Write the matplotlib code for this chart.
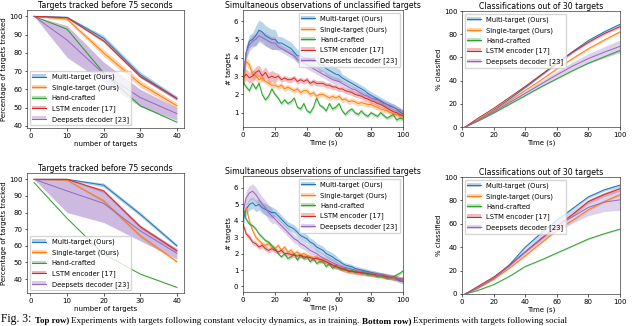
import matplotlib.pyplot as plt
import numpy as np
from matplotlib.lines import Line2D
from matplotlib.patches import Patch

LABELS = ["Multi-target (Ours)", "Single-target (Ours)", "Hand-crafted",
          "LSTM encoder [17]", "Deepsets decoder [23]"]
COLORS = ["tab:blue", "tab:orange", "tab:green", "tab:red", "tab:purple"]

# ---- left column: % of targets tracked vs number of targets
N_TARGETS = [1, 10, 20, 30, 40]

TRACKED_TOP_MEAN = [
    [100, 99.5, 88, 68, 55],
    [100, 98.5, 80, 63, 51],
    [100, 93, 69, 51, 42],
    [100, 99.3, 86.5, 67, 55],
    [100, 87, 68.5, 55.5, 46.7],
]
TRACKED_TOP_LOW = [
    [99.8, 99, 86.5, 66.5, 53.7],
    [99.8, 97.7, 78.2, 61.2, 49.5],
    [100, 92.7, 68.6, 50.6, 41.7],
    [99.8, 98.9, 85.7, 66.2, 54.3],
    [100, 77.5, 64, 50.5, 43],
]
TRACKED_TOP_HIGH = [
    [100.2, 100, 89.5, 69.5, 56.3],
    [100.2, 99.3, 81.8, 64.8, 52.5],
    [100, 93.3, 69.4, 51.4, 42.3],
    [100.2, 99.7, 87.3, 67.8, 55.7],
    [100, 95, 75, 60, 50],
]

TRACKED_BOT_MEAN = [
    [100, 100, 96.5, 79, 60],
    [100, 99.5, 87, 66, 50.5],
    [98, 76.5, 55, 43, 35],
    [100, 100, 93, 71.5, 57],
    [100, 93, 85.5, 69, 55.5],
]
TRACKED_BOT_LOW = [
    [99.8, 99.7, 95.3, 77.8, 59],
    [99.8, 99.1, 86, 65, 49.7],
    [97.8, 76.3, 54.8, 42.8, 34.8],
    [99.8, 99.7, 92, 70.5, 56.2],
    [100, 80, 74, 63, 52],
]
TRACKED_BOT_HIGH = [
    [100.2, 100.3, 97.7, 80.2, 61],
    [100.2, 99.9, 88, 67, 51.3],
    [98.2, 76.7, 55.2, 43.2, 35.2],
    [100.2, 100.3, 94, 72.5, 57.8],
    [100, 100, 93, 72, 58.5],
]

# ---- middle column: unclassified targets observed vs time (every 2 s)
TIME_OBS = list(range(0, 101, 2))

OBS_TOP = [
    [2.5, 4.3, 4.9, 5.0, 5.2, 5.5, 5.4, 5.2, 5.1, 5.0, 5.0, 4.8, 4.8, 4.7, 4.6, 4.5, 4.3,
     4.1, 4.1, 4.0, 4.0, 3.9, 3.8, 3.8, 3.6, 3.6, 3.4, 3.3, 3.2, 3.1, 3.05, 2.9, 2.8,
     2.7, 2.6, 2.5, 2.4, 2.3, 2.2, 2.05, 1.95, 1.85, 1.75, 1.65, 1.55, 1.45, 1.35, 1.3,
     1.2, 1.05, 0.95],
    [2.4, 3.8, 3.6, 3.1, 3.0, 2.8, 2.9, 2.7, 2.6, 2.5, 2.5, 2.4, 2.5, 2.3, 2.4, 2.3, 2.2,
     2.3, 2.1, 2.2, 2.2, 2.0, 2.1, 1.9, 2.0, 2.0, 1.9, 1.8, 1.9, 1.8, 1.9, 1.7, 1.75,
     1.6, 1.65, 1.6, 1.5, 1.55, 1.5, 1.45, 1.45, 1.35, 1.3, 1.2, 1.15, 1.1, 1.0, 0.95,
     0.9, 0.85, 0.8],
    [2.7, 2.4, 2.2, 2.6, 2.3, 2.6, 2.0, 1.7, 1.9, 2.3, 2.0, 1.8, 1.5, 1.7, 1.5, 1.6, 1.8,
     1.3, 1.2, 1.5, 1.1, 1.0, 1.3, 1.8, 1.4, 1.3, 1.1, 1.5, 1.2, 1.3, 1.5, 1.1, 0.9,
     1.1, 1.2, 1.0, 0.9, 1.1, 0.9, 0.8, 1.0, 0.9, 0.8, 1.0, 0.85, 0.7, 0.8, 0.9, 0.6,
     0.7, 0.65],
    [2.9, 3.1, 2.9, 3.0, 3.2, 3.3, 3.0, 3.2, 2.9, 3.0, 2.9, 3.0, 2.8, 2.9, 2.8, 2.8, 2.9,
     2.7, 2.8, 2.7, 2.8, 2.6, 2.7, 2.6, 2.6, 2.6, 2.5, 2.5, 2.4, 2.4, 2.3, 2.3, 2.2,
     2.15, 2.1, 2.0, 1.95, 1.9, 1.8, 1.75, 1.65, 1.6, 1.5, 1.45, 1.35, 1.25, 1.15, 1.05,
     1.0, 0.9, 0.85],
    [3.0, 4.3, 4.7, 4.9, 5.0, 5.2, 5.1, 5.0, 4.9, 4.8, 4.8, 4.6, 4.5, 4.4, 4.3, 4.2, 4.1,
     3.9, 3.8, 3.7, 3.6, 3.5, 3.4, 3.3, 3.2, 3.1, 3.0, 2.9, 2.8, 2.75, 2.7, 2.6, 2.5,
     2.4, 2.3, 2.25, 2.15, 2.05, 1.95, 1.9, 1.8, 1.75, 1.7, 1.6, 1.5, 1.45, 1.4, 1.3,
     1.2, 1.15, 1.05],
]
OBS_TOP_HALF = [
    [0.35] * 4 + [0.55] * 7 + [0.35] * 20 + [0.2] * 20,
    [0.25] * 6 + [0.15] * 45,
    [0.1] * 51,
    [0.3] * 11 + [0.15] * 40,
    [0.35] * 11 + [0.2] * 20 + [0.15] * 20,
]

OBS_BOT = [
    [4.0, 4.7, 5.0, 5.1, 4.9, 5.0, 4.8, 4.7, 4.6, 4.5, 4.5, 4.3, 4.1, 3.9, 3.7, 3.6, 3.5,
     3.3, 3.1, 3.0, 2.9, 2.7, 2.6, 2.4, 2.3, 2.2, 2.0, 1.9, 1.8, 1.65, 1.55, 1.4, 1.3,
     1.25, 1.2, 1.1, 1.05, 1.0, 0.95, 0.9, 0.85, 0.8, 0.75, 0.7, 0.65, 0.6, 0.55, 0.5,
     0.45, 0.35, 0.3],
    [4.3, 4.8, 4.0, 3.4, 3.0, 2.8, 2.6, 2.5, 2.6, 2.4, 2.3, 2.5, 2.2, 2.4, 2.1, 2.2, 2.0,
     2.1, 1.9, 2.0, 1.9, 1.8, 1.7, 1.8, 1.6, 1.6, 1.5, 1.4, 1.3, 1.2, 1.2, 1.1, 1.0,
     1.0, 0.95, 0.9, 0.85, 0.85, 0.8, 0.8, 0.75, 0.7, 0.7, 0.65, 0.6, 0.6, 0.55, 0.5,
     0.5, 0.45, 0.4],
    [4.8, 4.1, 3.8, 3.7, 3.5, 3.2, 3.0, 2.8, 2.7, 2.5, 2.3, 2.0, 1.8, 2.0, 1.7, 1.8, 2.0,
     1.6, 1.9, 1.7, 1.8, 1.5, 1.7, 1.4, 1.5, 1.5, 1.2, 1.4, 1.1, 1.3, 1.1, 1.0, 1.1,
     0.9, 1.0, 0.85, 0.9, 0.8, 0.85, 0.7, 0.75, 0.7, 0.6, 0.65, 0.6, 0.5, 0.55, 0.6,
     0.7, 0.8, 0.95],
    [3.8, 3.2, 3.0, 2.7, 2.6, 2.4, 2.5, 2.3, 2.2, 2.3, 2.2, 2.1, 2.2, 2.0, 2.0, 1.95, 1.9,
     1.85, 1.9, 1.8, 1.8, 1.75, 1.7, 1.7, 1.65, 1.6, 1.5, 1.4, 1.3, 1.2, 1.15, 1.1, 1.0,
     0.95, 0.9, 0.9, 0.85, 0.85, 0.8, 0.8, 0.75, 0.75, 0.7, 0.7, 0.65, 0.6, 0.6, 0.55,
     0.5, 0.45, 0.45],
    [4.5, 5.4, 5.7, 5.8, 5.6, 5.3, 5.0, 4.8, 4.5, 4.3, 4.1, 3.9, 3.7, 3.5, 3.3, 3.1, 2.9,
     2.8, 2.6, 2.5, 2.35, 2.2, 2.1, 2.0, 1.85, 1.75, 1.65, 1.55, 1.45, 1.35, 1.3, 1.2,
     1.15, 1.1, 1.05, 1.0, 0.95, 0.9, 0.9, 0.85, 0.8, 0.8, 0.75, 0.7, 0.7, 0.65, 0.6,
     0.55, 0.5, 0.45, 0.4],
]
OBS_BOT_HALF = [
    [0.35] * 10 + [0.25] * 20 + [0.15] * 21,
    [0.15] * 51,
    [0.1] * 51,
    [0.15] * 51,
    [0.45] * 10 + [0.25] * 20 + [0.15] * 21,
]

# ---- right column: % classified out of 30 targets vs time
TIME_CLS = [2, 10, 20, 30, 40, 50, 60, 70, 80, 90, 100]

CLS_TOP = [
    [0, 6, 14.5, 24, 34, 44.5, 55, 65, 74.5, 82, 88.5],
    [0, 6, 14, 22.5, 31.5, 40.5, 50, 59, 67.5, 75, 82],
    [0, 5, 12, 19.5, 27, 34.5, 41.5, 48.5, 55, 60.5, 66],
    [0, 7.5, 16, 25.5, 35, 45, 55, 64.5, 73, 80.5, 86.5],
    [0, 5.5, 13, 21, 29, 37, 45, 52.5, 59, 64.5, 69.5],
]
CLS_TOP_HALF = [
    [0, 0.3, 0.5, 0.6, 0.7, 0.8, 0.9, 1.0, 1.1, 1.2, 1.2],
    [0, 0.3, 0.4, 0.5, 0.6, 0.7, 0.8, 0.9, 1.0, 1.0, 1.0],
    [0, 0.2, 0.3, 0.3, 0.4, 0.4, 0.5, 0.5, 0.5, 0.6, 0.6],
    [0, 0.3, 0.4, 0.5, 0.6, 0.7, 0.8, 0.9, 1.0, 1.0, 1.0],
    [0, 0.5, 1.0, 1.5, 2.0, 2.5, 3.0, 3.5, 4.2, 4.8, 5.5],
]

CLS_BOT = [
    [0, 5, 13.5, 25, 40, 52, 63, 73, 83, 89, 93],
    [0, 5, 12.5, 22, 32.5, 43.5, 54.5, 63, 72, 79, 85],
    [0, 3, 8, 15, 23.5, 29, 35, 41, 47, 51.5, 55.5],
    [0, 6.5, 14.5, 24.5, 36, 47, 58, 68, 79, 85, 90],
    [0, 5.5, 13.5, 24, 36, 47.5, 58, 66, 74, 78.5, 80.5],
]
CLS_BOT_HALF = [
    [0, 0.4, 0.6, 0.8, 1.0, 1.1, 1.2, 1.2, 1.2, 1.2, 1.2],
    [0, 0.3, 0.5, 0.6, 0.7, 0.8, 0.9, 1.0, 1.0, 1.0, 1.0],
    [0, 0.2, 0.3, 0.3, 0.4, 0.4, 0.5, 0.5, 0.5, 0.5, 0.5],
    [0, 0.3, 0.5, 0.6, 0.8, 1.0, 1.2, 1.4, 1.6, 1.8, 2.0],
    [0, 0.5, 1.0, 1.5, 2.5, 3.5, 4.5, 5.5, 7.0, 8.0, 9.0],
]

CAPTION = [
    ("Fig. 3: ", "normal", 8.4),
    ("Top row) ", "bold", 6.4),
    ("Experiments with targets following constant velocity dynamics, as in training. ", "normal", 6.6),
    ("Bottom row) ", "bold", 6.6),
    ("Experiments with targets following social", "normal", 6.6),
]

FS = 5.0
plt.rcParams.update({
    "font.family": "DejaVu Sans",
    "font.size": FS,
    "axes.linewidth": 0.45,
    "axes.edgecolor": "0.15",
    "xtick.major.size": 1.8,
    "ytick.major.size": 1.8,
    "xtick.major.width": 0.45,
    "ytick.major.width": 0.45,
    "xtick.major.pad": 1.5,
    "ytick.major.pad": 1.5,
    "axes.titlepad": 1.5,
    "axes.labelpad": 1.5,
})

W, H = 640, 326


def rect(left, top, right, bottom):
    return [left / W, 1 - bottom / H, (right - left) / W, (bottom - top) / H]


def legend(ax, loc, band_alpha):
    handles = [(Patch(facecolor=c, alpha=band_alpha, linewidth=0), Line2D([], [], color=c, lw=0.8))
               for c in COLORS]
    ax.legend(handles, LABELS, loc=loc, fontsize=4.9, handlelength=2.0, handleheight=0.5,
              borderpad=0.4, labelspacing=0.6, handletextpad=0.8, borderaxespad=0.4,
              framealpha=0.8, edgecolor="0.8", fancybox=True)


def tracked_panel(ax, means, lows, highs):
    for c, m, lo, hi in zip(COLORS, means, lows, highs):
        alpha = 0.45 if c == "tab:purple" else 0.35
        ax.fill_between(N_TARGETS, lo, hi, color=c, alpha=alpha, linewidth=0)
        ax.plot(N_TARGETS, m, color=c, lw=0.7)
    ax.set_title("Targets tracked before 75 seconds", fontsize=5.6)
    ax.set_xlabel("number of targets")
    ax.set_ylabel("Percentage of targets tracked")
    ax.set_xticks([0, 10, 20, 30, 40])
    ax.set_yticks([40, 50, 60, 70, 80, 90, 100])
    legend(ax, "lower left", 0.35)


def obs_panel(ax, series, halves, ylim, yticks):
    t = np.array(TIME_OBS)
    for c, s, hw in zip(COLORS, series, halves):
        s = np.array(s)
        hw = np.array(hw)
        ax.fill_between(t, s - hw, s + hw, color=c, alpha=0.3, linewidth=0)
        ax.plot(t, s, color=c, lw=0.7)
    ax.set_xlim(0, 100)
    ax.set_ylim(*ylim)
    ax.set_xticks([0, 20, 40, 60, 80, 100])
    ax.set_yticks(yticks)
    ax.set_title("Simultaneous observations of unclassified targets", fontsize=5.6)
    ax.set_xlabel("Time (s)")
    ax.set_ylabel("# targets")
    legend(ax, "upper right", 0.3)


def cls_panel(ax, series, halves):
    t = np.array(TIME_CLS)
    for c, s, hw in zip(COLORS, series, halves):
        s = np.array(s)
        hw = np.array(hw)
        ax.fill_between(t, s - hw, s + hw, color=c, alpha=0.3, linewidth=0)
        ax.plot(t, s, color=c, lw=0.7)
    ax.set_xlim(0, 100)
    ax.set_ylim(0, 100)
    ax.set_xticks([0, 20, 40, 60, 80, 100])
    ax.set_yticks([0, 20, 40, 60, 80, 100])
    ax.set_title("Classifications out of 30 targets", fontsize=5.6)
    ax.set_xlabel("Time (s)")
    ax.set_ylabel("% classified")
    legend(ax, "upper left", 0.3)


fig = plt.figure(figsize=(6.4, 3.26), dpi=100)

ax = fig.add_axes(rect(27, 10, 184, 128))
tracked_panel(ax, TRACKED_TOP_MEAN, TRACKED_TOP_LOW, TRACKED_TOP_HIGH)
ax.set_ylim(38.8, 103.5)

ax = fig.add_axes(rect(243, 10, 403, 127))
obs_panel(ax, OBS_TOP, OBS_TOP_HALF, (0.22, 6.6), [1, 2, 3, 4, 5, 6])

ax = fig.add_axes(rect(462, 11, 620, 127))
cls_panel(ax, CLS_TOP, CLS_TOP_HALF)

ax = fig.add_axes(rect(27, 173, 184, 293))
tracked_panel(ax, TRACKED_BOT_MEAN, TRACKED_BOT_LOW, TRACKED_BOT_HIGH)
ax.set_ylim(31.6, 103.8)

ax = fig.add_axes(rect(243, 176, 403, 292))
obs_panel(ax, OBS_BOT, OBS_BOT_HALF, (-0.34, 6.73), [0, 1, 2, 3, 4, 5, 6])

ax = fig.add_axes(rect(462, 177, 620, 294))
cls_panel(ax, CLS_BOT, CLS_BOT_HALF)

# caption, pieces chained left to right
first_ax = fig.axes[0]
prev = None
for text, weight, size in CAPTION:
    if prev is None:
        prev = fig.text(0.002, 0.012, text, fontsize=size, weight=weight,
                        family="Liberation Serif", ha="left", va="baseline")
    else:
        prev = first_ax.annotate(text, xy=(1, 0), xycoords=prev, ha="left", va="bottom",
                                 fontsize=size, weight=weight, family="Liberation Serif",
                                 annotation_clip=False)

fig.savefig("out.png", dpi=100)
